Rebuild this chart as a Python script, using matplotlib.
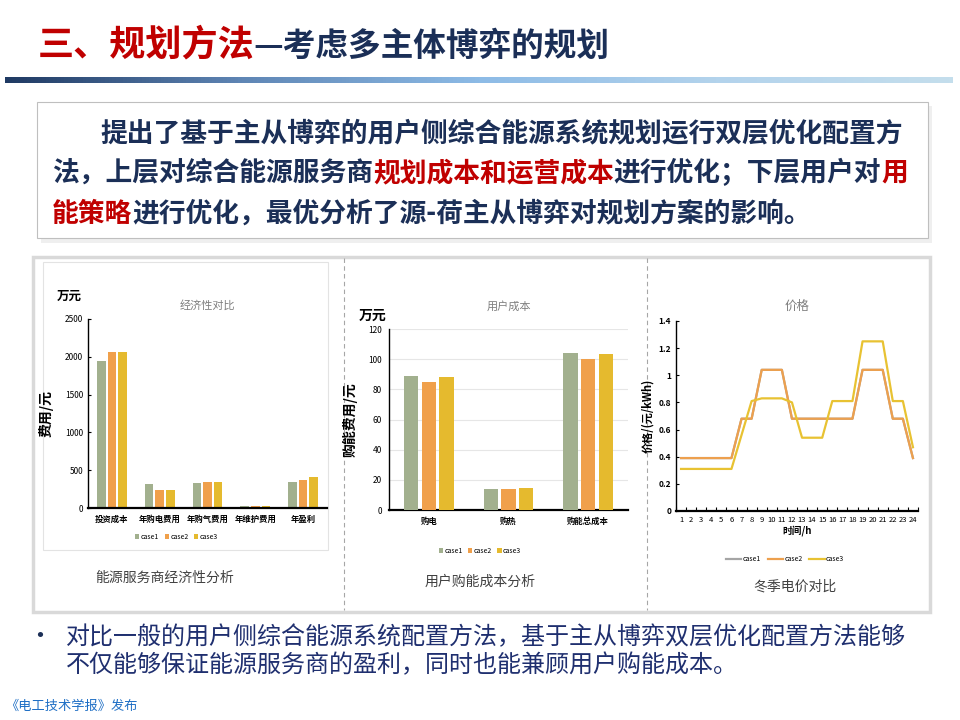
import matplotlib
matplotlib.use('Agg')
import matplotlib.pyplot as plt
import numpy as np
from matplotlib.colors import LinearSegmentedColormap
from matplotlib.patches import Rectangle

plt.rcParams['font.family'] = ['Noto Sans CJK SC', 'DejaVu Sans']

# ---- data ----
cases = ['case1', 'case2', 'case3']
econ_items = ['投资成本', '年购电费用', '年购气费用', '年维护费用', '年盈利']
econ_case1 = [1940, 320, 330, 20, 340]
econ_case2 = [2070, 235, 340, 25, 370]
econ_case3 = [2070, 235, 340, 25, 410]

user_items = ['购电', '购热', '购能总成本']
user_case1 = [89, 14, 104]
user_case2 = [85, 14, 100]
user_case3 = [88, 14.5, 103.5]

hours = list(range(1, 25))
price_case1 = [0.39] * 6 + [0.68, 0.68, 1.04, 1.04, 1.04] + [0.68] * 7 + [1.04, 1.04, 1.04, 0.68, 0.68, 0.39]
price_case2 = [0.39] * 6 + [0.68, 0.68, 1.04, 1.04, 1.04] + [0.68] * 7 + [1.04, 1.04, 1.04, 0.68, 0.68, 0.39]
price_case3 = [0.31] * 6 + [0.56, 0.81, 0.83, 0.83, 0.83, 0.80, 0.54, 0.54, 0.54, 0.81, 0.81, 0.81,
                            1.25, 1.25, 1.25, 0.81, 0.81, 0.47]

bar_colors = ['#A2B08E', '#F0A04B', '#E5BA2E']
line_colors = ['#A5A5A5', '#EDA04E', '#E8C232']

NAVY = '#1B2F57'
RED = '#C00000'
W, H = 960, 720

fig = plt.figure(figsize=(9.6, 7.2), dpi=100)

# background axes in pixel coordinates (y downwards)
bg = fig.add_axes([0, 0, 1, 1], zorder=0)
bg.set_xlim(0, W)
bg.set_ylim(H, 0)
bg.axis('off')


def px_axes(left, top, right, bottom):
    return fig.add_axes([left / W, 1 - bottom / H, (right - left) / W, (bottom - top) / H], zorder=2)


renderer = fig.canvas.get_renderer()


def put_segments(x, y, segments, size, weight):
    for txt, col in segments:
        t = bg.text(x, y, txt, color=col, fontsize=size, fontweight=weight, va='center', ha='left')
        x += t.get_window_extent(renderer).width


# title
put_segments(38, 45, [('三、规划方法', RED)], 26, 'bold')
put_segments(253, 46, [('—考虑多主体博弈的规划', NAVY)], 23.5, 'bold')

# gradient bar
cmap = LinearSegmentedColormap.from_list('bar', ['#1F3A63', '#5F86B5', '#8DBBE6', '#B3D3EC', '#C4DEEC'])
bg.imshow(np.linspace(0, 1, 256)[None, :], cmap=cmap, aspect='auto', extent=[5, 953, 83, 77], zorder=1)
bg.set_xlim(0, W)
bg.set_ylim(H, 0)

# text box with shadow
bg.add_patch(Rectangle((41, 106), 891, 137, facecolor='#EFEFEF', edgecolor='none', zorder=1))
bg.add_patch(Rectangle((37, 102), 891, 136, facecolor='white', edgecolor='#BFBFBF', lw=0.8, zorder=2))
put_segments(100, 133, [('提出了基于主从博弈的用户侧综合能源系统规划运行双层优化配置方', NAVY)], 19.3, 'bold')
put_segments(52, 173, [('法，上层对综合能源服务商', NAVY), ('规划成本和运营成本', RED),
                       ('进行优化；下层用户对', NAVY), ('用', RED)], 19.3, 'bold')
put_segments(52, 214, [('能策略', RED), ('进行优化，最优分析了源-荷主从博弈对规划方案的影响。', NAVY)], 19.3, 'bold')

# chart panel
bg.add_patch(Rectangle((33, 257), 897, 355, facecolor='white', edgecolor='#D9D9D9', lw=2.5, zorder=1))
bg.add_patch(Rectangle((43, 262), 285, 288, facecolor='none', edgecolor='#E3E3E3', lw=0.8, zorder=2))
bg.plot([344, 344], [258, 610], ls=(0, (4, 3)), color='#A6A6A6', lw=0.8, zorder=2)
bg.plot([647, 647], [258, 610], ls=(0, (4, 3)), color='#A6A6A6', lw=0.8, zorder=2)

bg.text(165, 578, '能源服务商经济性分析', fontsize=10, color='#404040', ha='center', va='center')
bg.text(480, 582, '用户购能成本分析', fontsize=10, color='#404040', ha='center', va='center')
bg.text(795, 586, '冬季电价对比', fontsize=10, color='#404040', ha='center', va='center')

# bullet text
bg.text(40, 637, '•', fontsize=18, color=NAVY, ha='center', va='center')
bg.text(66, 637, '对比一般的用户侧综合能源系统配置方法，基于主从博弈双层优化配置方法能够',
        fontsize=17.3, color='#1F2F6F', va='center')
bg.text(66, 665, '不仅能够保证能源服务商的盈利，同时也能兼顾用户购能成本。',
        fontsize=17.3, color='#1F2F6F', va='center')
bg.text(5, 706, '《电工技术学报》发布', fontsize=9.5, color='#1F6FC5', va='center')


def style_axes(ax):
    for s in ['top', 'right']:
        ax.spines[s].set_visible(False)
    ax.spines['bottom'].set_linewidth(1.6)
    ax.spines['left'].set_linewidth(1.0)
    ax.tick_params(labelsize=6, length=2, width=0.8, direction='in')


# chart 1: economy
ax1 = px_axes(88, 319, 327, 508)
x1 = np.arange(len(econ_items))
for i, vals in enumerate([econ_case1, econ_case2, econ_case3]):
    ax1.bar(x1 + (i - 1) * 0.22, vals, width=0.18, color=bar_colors[i], label=cases[i])
ax1.set_ylim(0, 2500)
ax1.set_yticks([0, 500, 1000, 1500, 2000, 2500])
ax1.set_xlim(-0.5, 4.5)
ax1.set_xticks(x1)
ax1.set_xticklabels(econ_items, fontweight='bold', fontsize=5.5)
style_axes(ax1)
ax1.tick_params(axis='x', length=0, pad=5)
ax1.set_title('经济性对比', fontsize=8, color='#7F7F7F', pad=7)
ax1.set_ylabel('费用/元', fontsize=10, fontweight='bold', labelpad=8)
ax1.text(-0.08, 1.1, '万元', transform=ax1.transAxes, fontsize=9, fontweight='bold', ha='center')
ax1.legend(loc='upper center', bbox_to_anchor=(0.37, -0.1), ncol=3, fontsize=5, frameon=False,
           handlelength=0.6, handleheight=0.6, handletextpad=0.2, columnspacing=0.8)

# chart 2: user cost
ax2 = px_axes(389, 329, 628, 510)
x2 = np.arange(len(user_items))
for i, vals in enumerate([user_case1, user_case2, user_case3]):
    ax2.bar(x2 + (i - 1) * 0.22, vals, width=0.18, color=bar_colors[i], label=cases[i], zorder=3)
ax2.set_ylim(0, 120)
ax2.set_yticks(range(0, 121, 20))
ax2.set_xlim(-0.5, 2.5)
ax2.set_xticks(x2)
ax2.set_xticklabels(user_items, fontweight='bold', fontsize=6)
ax2.grid(axis='y', color='#E6E6E6', lw=0.8, zorder=0)
style_axes(ax2)
ax2.tick_params(axis='both', length=0, pad=5)
ax2.set_title('用户成本', fontsize=8, color='#7F7F7F', pad=14)
ax2.set_ylabel('购能费用/元', fontsize=10, fontweight='bold', labelpad=8)
ax2.text(-0.07, 1.05, '万元', transform=ax2.transAxes, fontsize=10, fontweight='bold', ha='center')
ax2.legend(loc='upper center', bbox_to_anchor=(0.38, -0.17), ncol=3, fontsize=5, frameon=False,
           handlelength=0.6, handleheight=0.6, handletextpad=0.2, columnspacing=0.8)

# chart 3: price
ax3 = px_axes(676, 321, 918, 511)
for i, vals in enumerate([price_case1, price_case2, price_case3]):
    ax3.plot(hours, vals, color=line_colors[i], lw=1.6, label=cases[i])
ax3.set_ylim(0, 1.4)
ax3.set_yticks([0, 0.2, 0.4, 0.6, 0.8, 1.0, 1.2, 1.4])
ax3.set_yticklabels(['0', '0.2', '0.4', '0.6', '0.8', '1', '1.2', '1.4'], fontweight='bold')
ax3.set_xlim(0.5, 24.5)
ax3.set_xticks(hours)
ax3.set_xticks(np.arange(0.5, 25, 1), minor=True)
style_axes(ax3)
ax3.tick_params(axis='x', which='major', length=0, labelsize=5.5)
ax3.tick_params(axis='x', which='minor', length=3, width=0.8, direction='in')
ax3.set_title('价格', fontsize=9, color='#7F7F7F', pad=8)
ax3.set_ylabel('价格/(元/kWh)', fontsize=8, fontweight='bold', labelpad=3)
ax3.set_xlabel('时间/h', fontsize=7, fontweight='bold', labelpad=1)
ax3.legend(loc='upper center', bbox_to_anchor=(0.45, -0.2), ncol=3, fontsize=5, frameon=False,
           handlelength=2.2, handletextpad=0.2, columnspacing=1.0)

fig.savefig('out.png', dpi=100)
